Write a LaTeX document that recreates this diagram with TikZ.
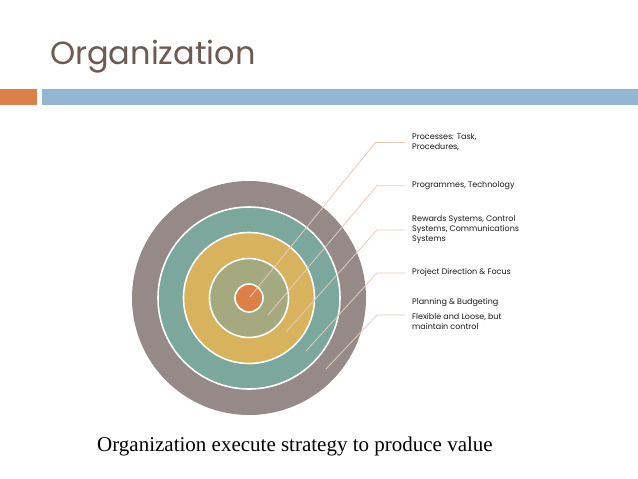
\documentclass[tikz,border=0pt]{standalone}
\usepackage{fontspec}
\setmainfont{Liberation Serif}
\newfontfamily\geofont{Poppins}
\definecolor{titlecol}{HTML}{6B5B53}
\definecolor{barorange}{HTML}{DD8047}
\definecolor{barblue}{HTML}{94B6D2}
\definecolor{ringgrey}{HTML}{958A87}
\definecolor{ringteal}{HTML}{7BA79D}
\definecolor{ringyellow}{HTML}{D8B25C}
\definecolor{ringolive}{HTML}{A4A97F}
\definecolor{ringorange}{HTML}{DD8047}
\definecolor{linkcol}{HTML}{E6CBBE}
\begin{document}
\begin{tikzpicture}[x=1pt,y=-1pt,
  ring/.style={circle,draw=white,line width=1.6pt,inner sep=0pt},
  link/.style={draw=linkcol,line width=0.8pt},
  lbl/.style={anchor=west,align=left,inner sep=0pt,font=\geofont\fontsize{8}{10}\selectfont,text=black!90}]
\useasboundingbox (0,0) rectangle (638,479);
\fill[white] (0,0) rectangle (638,479);
% title and bars
\node[anchor=base west,inner sep=0pt,text=titlecol,font=\geofont\fontsize{32}{36}\selectfont] (title) at (50,64.5) {Organization};
\fill[barorange] (0,89.3) rectangle (36.7,105);
\fill[barblue] (41.5,89.3) rectangle (638,105);
% rings
\node[ring,fill=ringgrey,minimum size=234pt,draw=none] (r5) at (249,298) {};
\node[ring,fill=ringteal,minimum size=182pt] (r4) at (249,298) {};
\node[ring,fill=ringyellow,minimum size=131pt] (r3) at (249,298) {};
\node[ring,fill=ringolive,minimum size=79pt] (r2) at (249,298) {};
\node[ring,fill=ringorange,minimum size=28pt] (r1) at (249,298) {};
% connector points
\coordinate (s1) at (250,297);
\coordinate (s2) at (268,315);
\coordinate (s3) at (286,332);
\coordinate (s4) at (306,351);
\coordinate (s5) at (326,369);
\coordinate (e1) at (375.5,142.5);
\coordinate (e2) at (377,185.7);
\coordinate (e3) at (377,230);
\coordinate (e4) at (377,273);
\coordinate (e5) at (377,315);
% labels
\node[lbl] (t1) at (412,142) {Processes: Task,\\Procedures,};
\node[lbl] (t2) at (412,185.7) {Programmes, Technology};
\node[lbl] (t3) at (412,229.7) {Rewards Systems, Control\\Systems, Communications\\Systems};
\node[lbl] (t4) at (412,272.7) {Project Direction \& Focus};
\node[lbl] (t5) at (412,314.2) {Planning \& Budgeting\\[5pt]Flexible and Loose, but\\maintain control};
% connectors
\draw[link] (s1) -- (e1) -- ([xshift=-7pt]e1 -| t1.west);
\draw[link] (s2) -- (e2) -- ([xshift=-7pt]e2 -| t2.west);
\draw[link] (s3) -- (e3) -- ([xshift=-7pt]e3 -| t3.west);
\draw[link] (s4) -- (e4) -- ([xshift=-7pt]e4 -| t4.west);
\draw[link] (s5) -- (e5) -- ([xshift=-7pt]e5 -| t5.west);
% caption
\node[anchor=base west,inner sep=0pt,font=\fontsize{21}{25}\selectfont] (cap) at (97,451.5) {Organization execute strategy to produce value};
\end{tikzpicture}
\end{document}
